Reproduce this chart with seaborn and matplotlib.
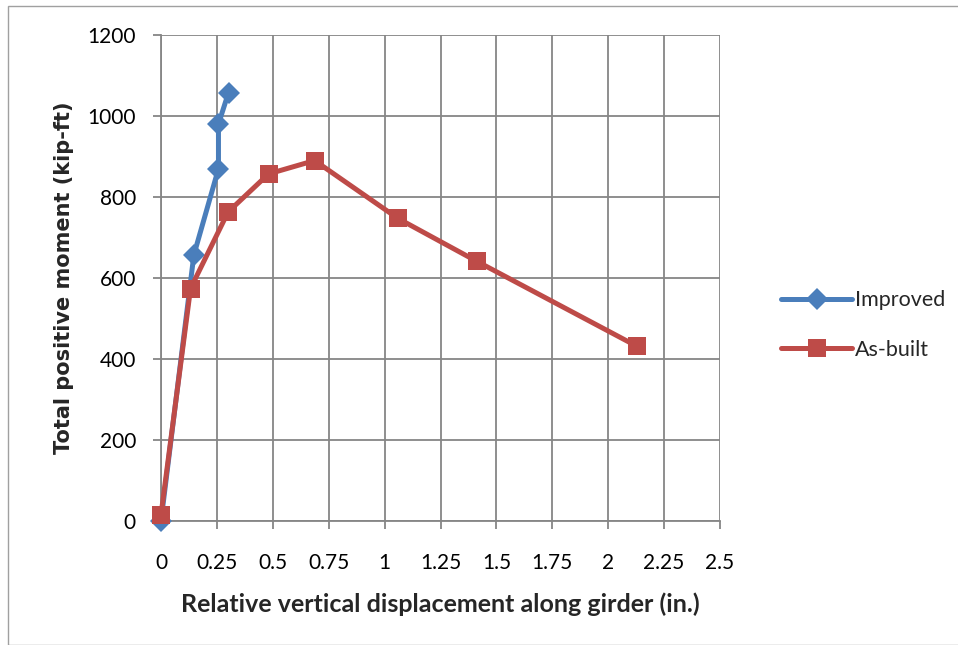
import matplotlib
matplotlib.use("Agg")
import matplotlib.pyplot as plt
import seaborn as sns
import pandas as pd

improved_x = [0.0, 0.147, 0.257, 0.257, 0.302]
improved_y = [0, 657, 870, 980, 1058]
asbuilt_x = [0.0, 0.132, 0.30, 0.481, 0.687, 1.06, 1.413, 2.13]
asbuilt_y = [15, 574, 763, 857, 890, 747, 641, 431]
series_names = ["Improved", "As-built"]
x_ticks = [0, 0.25, 0.5, 0.75, 1, 1.25, 1.5, 1.75, 2, 2.25, 2.5]
x_tick_labels = ["0", "0.25", "0.5", "0.75", "1", "1.25", "1.5", "1.75", "2", "2.25", "2.5"]
y_ticks = [0, 200, 400, 600, 800, 1000, 1200]

sns.set_style("white")
plt.rcParams['font.family'] = ['Lato', 'DejaVu Sans']

fig = plt.figure(figsize=(9.58, 6.45), dpi=100)
ax = fig.add_axes([161/958, 1 - 521/645, (720-161)/958, (521-35)/645])

df1 = pd.DataFrame({"x": improved_x, "y": improved_y})
df2 = pd.DataFrame({"x": asbuilt_x, "y": asbuilt_y})
sns.lineplot(data=df1, x="x", y="y", sort=False, estimator=None, ax=ax, color="#4A7EBB", lw=3.6,
             marker="D", markersize=11.5, markeredgewidth=0, label=series_names[0], zorder=3,
             clip_on=False)
sns.lineplot(data=df2, x="x", y="y", sort=False, estimator=None, ax=ax, color="#BE4B48", lw=3.6,
             marker="s", markersize=13.5, markeredgewidth=0, label=series_names[1], zorder=4,
             clip_on=False)

ax.set_xlim(0, 2.5)
ax.set_ylim(0, 1200)
ax.set_xticks(x_ticks)
ax.set_xticklabels(x_tick_labels)
ax.set_yticks(y_ticks)
ax.grid(True, color="#868686", lw=1.3)
for s in ["top", "right"]:
    ax.spines[s].set_visible(False)
ax.spines["left"].set_color("#868686")
ax.spines["bottom"].set_color("#868686")
ax.spines["left"].set_linewidth(1.3)
ax.spines["bottom"].set_linewidth(1.3)
ax.tick_params(axis="both", labelsize=15, colors="black", length=6, width=1.3,
               direction="out", color="#868686", left=True, bottom=True)
ax.tick_params(axis="x", pad=17)
ax.tick_params(axis="y", pad=12)
ax.set_axisbelow(True)

ax.set_xlabel("Relative vertical displacement along girder (in.)", fontsize=18,
              fontweight="bold", labelpad=14)
ax.set_ylabel("Total positive moment (kip-ft)", fontsize=15, fontweight="bold", labelpad=10,
              family="DejaVu Sans")

leg = ax.legend(loc="center left", bbox_to_anchor=(762/958, 1 - 325/645), bbox_transform=fig.transFigure,
                frameon=False, fontsize=15.5, handlelength=3.3, labelspacing=1.35, handletextpad=0.1)

fig.patches.append(plt.Rectangle((8/958, 0), 1, 1 - 6/645, transform=fig.transFigure,
                                 fill=False, edgecolor="#A0A0A0", lw=1))
fig.savefig("out.png", dpi=100)
